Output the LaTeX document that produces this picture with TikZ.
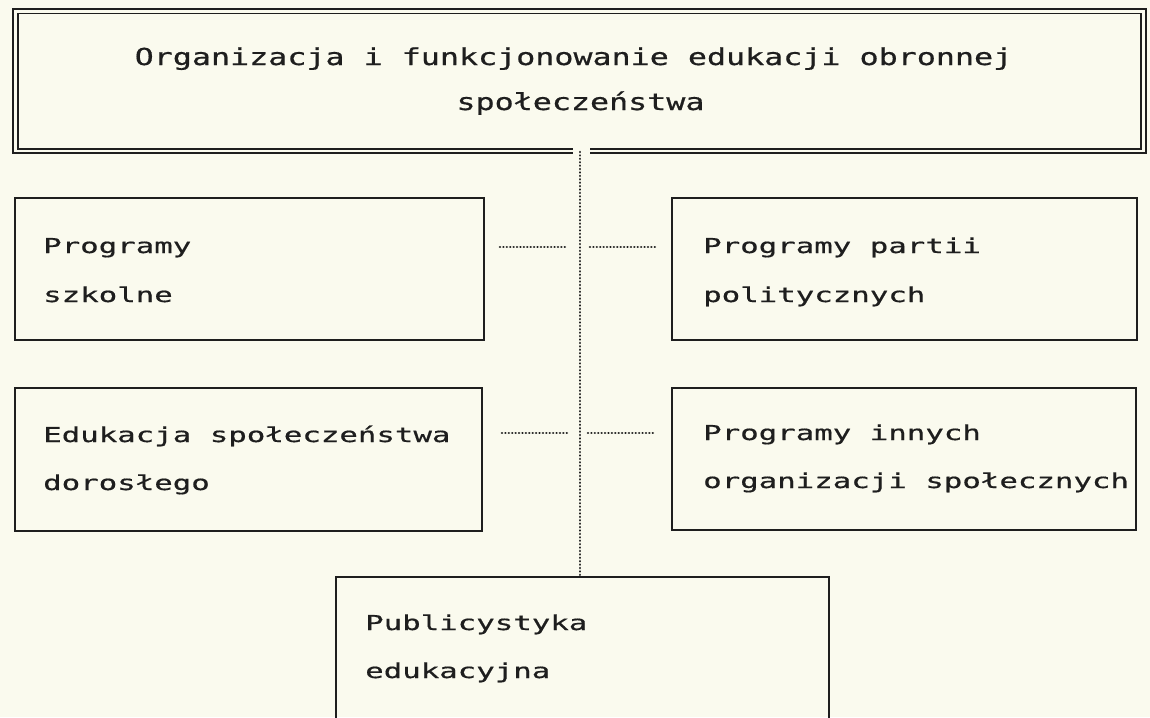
\documentclass[tikz,border=0pt]{standalone}
\usepackage{fontspec}
\usetikzlibrary{calc}
\newfontfamily\bodyfont{DejaVu Sans Mono}[FakeStretch=1.5,FakeBold=0.6]
\newfontfamily\titlefont{DejaVu Sans Mono}[FakeStretch=1.36,FakeBold=0.6]
\definecolor{paper}{HTML}{FAFAEE}
\definecolor{ink}{HTML}{1E1E1E}
\begin{document}
\begin{tikzpicture}[x=1pt,y=-1pt,
  box/.style={draw=ink, line width=2pt, anchor=north west, inner sep=0pt, outer sep=0pt},
  txt/.style={anchor=base west, inner sep=0pt, text=ink, font=\bodyfont\fontsize{20.5}{24}\selectfont},
  ttl/.style={anchor=base, inner sep=0pt, text=ink, font=\titlefont\fontsize{23.3}{28}\selectfont},
  dotline/.style={draw=ink, line width=2.6pt, line cap=round, dash pattern=on 0.01pt off 3.4pt}]
\fill[paper] (0,0) rectangle (1150,717);
\useasboundingbox (0,0) rectangle (1150,717);
\clip (0,0) rectangle (1150,717);
% top box with double border
\node[draw=ink, line width=2.8pt, minimum width=1133pt, minimum height=144pt, anchor=north west, inner sep=0pt, outer sep=0pt] (top) at (13,9) {};
\draw[ink, line width=1.6pt] ($(top.north west)+(5,4.5)$) rectangle ($(top.south east)+(-5,-4)$);
\node[ttl] (t1) at ($(top.north)+(-6,56)$) {Organizacja i funkcjonowanie edukacji obronnej};
\node[ttl] (t2) at ($(top.north)+(1,101)$) {społeczeństwa};
% boxes
\node[box, minimum width=469pt, minimum height=142pt] (b1) at (15,198) {};
\node[txt] (b1a) at ($(b1.north west)+(28,55)$) {Programy};
\node[txt] (b1b) at ($(b1.north west)+(28,104)$) {szkolne};
\node[box, minimum width=465pt, minimum height=142pt] (b2) at (672,198) {};
\node[txt] (b2a) at ($(b2.north west)+(31,55)$) {Programy partii};
\node[txt] (b2b) at ($(b2.north west)+(31,104)$) {politycznych};
\node[box, minimum width=467pt, minimum height=143pt] (b3) at (15,388) {};
\node[txt] (b3a) at ($(b3.north west)+(28,54)$) {Edukacja społeczeństwa};
\node[txt] (b3b) at ($(b3.north west)+(28,102)$) {dorosłego};
\node[box, minimum width=464pt, minimum height=142pt] (b4) at (672,388) {};
\node[txt] (b4a) at ($(b4.north west)+(31,52)$) {Programy innych};
\node[txt] (b4b) at ($(b4.north west)+(31,100)$) {organizacji społecznych};
\node[box, minimum width=493pt, minimum height=200pt] (b5) at (336,577) {};
\node[txt] (b5a) at ($(b5.north west)+(29,53)$) {Publicystyka};
\node[txt] (b5b) at ($(b5.north west)+(29,101)$) {edukacyjna};
% gap in top box bottom border
\fill[paper] (573,144) rectangle (590,158);
% connectors
\coordinate (vtop) at (580,152);
\draw[dotline] (vtop) -- (vtop |- b5.north);
\coordinate (r1a) at (500,247); \coordinate (r1b) at (568,247);
\coordinate (r1c) at (590,247); \coordinate (r1d) at (655,247);
\coordinate (r2a) at (502,433); \coordinate (r2b) at (568,433);
\coordinate (r2c) at (588,433); \coordinate (r2d) at (655,433);
\draw[dotline] (r1a) -- (r1b);
\draw[dotline] (r1c) -- (r1d);
\draw[dotline] (r2a) -- (r2b);
\draw[dotline] (r2c) -- (r2d);
\end{tikzpicture}
\end{document}
